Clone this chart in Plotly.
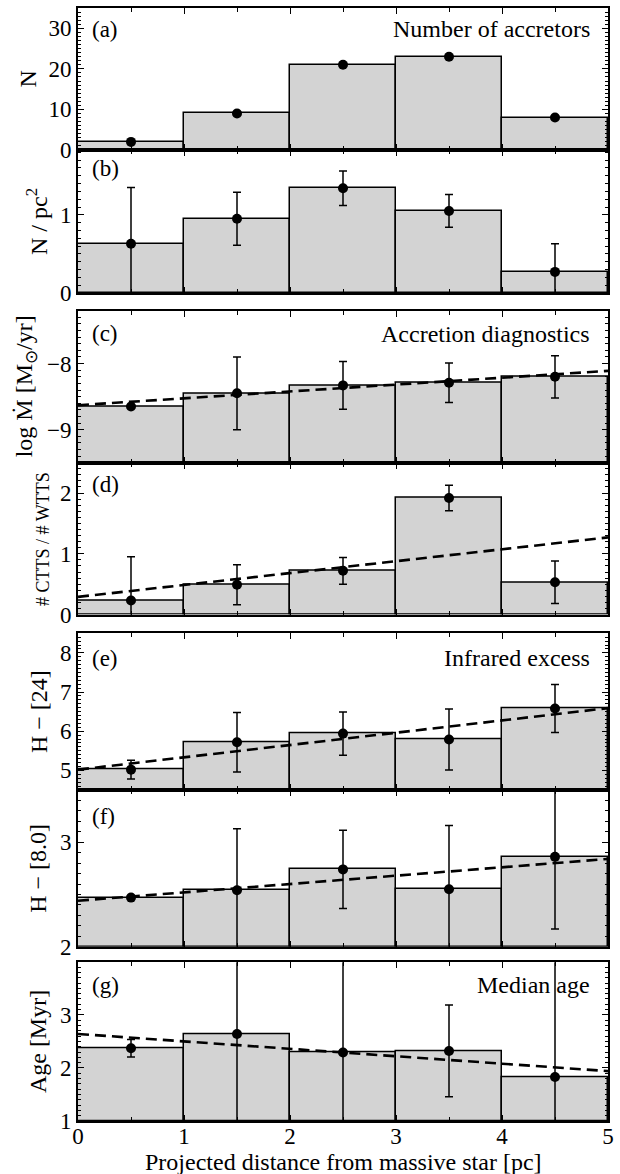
import plotly.graph_objects as go

# ---------------- data ----------------
bin_centers = [0.5, 1.5, 2.5, 3.5, 4.5]
fit_x = [0, 5]

n_accretors = [2, 9, 21, 23, 8]

density = [0.63, 0.95, 1.34, 1.05, 0.27]
density_err = [0.72, 0.34, 0.22, 0.21, 0.36]

log_mdot = [-8.65, -8.45, -8.33, -8.29, -8.20]
log_mdot_err = [0.0, 0.55, 0.36, 0.30, 0.32]
log_mdot_fit = [-8.63, -8.11]

ctts_ratio = [0.23, 0.49, 0.72, 1.92, 0.53]
ctts_ratio_err = [0.72, 0.33, 0.22, 0.21, 0.35]
ctts_ratio_fit = [0.29, 1.27]

h_24 = [5.02, 5.72, 5.94, 5.79, 6.58]
h_24_err = [0.24, 0.76, 0.55, 0.78, 0.61]
h_24_fit = [5.02, 6.59]

h_80 = [2.47, 2.54, 2.74, 2.55, 2.86]
h_80_err = [0.0, 0.59, 0.375, 0.61, 0.69]
h_80_fit = [2.44, 2.84]

median_age = [2.37, 2.64, 2.29, 2.32, 1.83]
median_age_err = [0.165, 1.8, 1.9, 0.865, 2.3]
median_age_fit = [2.64, 1.94]

panel_labels = ["(a)", "(b)", "(c)", "(d)", "(e)", "(f)", "(g)"]
panel_headers = ["Number of accretors", "", "Accretion diagnostics", "", "Infrared excess", "", "Median age"]
y_titles = ["N", "N / pc<sup>2</sup>", "log Ṁ [M<sub>⊙</sub>/yr]",
            "# CTTS / # WTTS", "H − [24]", "H − [8.0]", "Age [Myr]"]
x_title = "Projected distance from massive star [pc]"

# ---------------- layout constants ----------------
W, H = 620, 1174
ML, MR, MT, MB = 78, 6, 8, 53
PW = W - ML - MR
PH = H - MT - MB
FONT = "Liberation Serif"

# pixel tops/bottoms of each panel
panel_px = [(8, 150), (150, 293), (310.7, 462.7), (462.7, 614.5),
            (633.3, 790), (790, 946.7), (962.3, 1121)]
y_ranges = [[0, 35], [0, 1.83], [-9.5, -7.2], [0, 2.5], [4.5, 8.5], [2, 3.5], [1, 3.99]]
y_dticks = [10, 1, 1, 1, 1, 1, 1]
y_minor = [1, 0.1, 0.1, 0.1, 0.1, 0.1, 0.1]
y_title_px = [27, 36, 25, 42, 38, 38, 37]
y_title_size = [24, 24, 24, 18, 24, 24, 24]
label_offsets = [21, 18, 23, 22, 25, 26, 23]

panels = [
    (n_accretors, None, None),
    (density, density_err, None),
    (log_mdot, log_mdot_err, log_mdot_fit),
    (ctts_ratio, ctts_ratio_err, ctts_ratio_fit),
    (h_24, h_24_err, h_24_fit),
    (h_80, h_80_err, h_80_fit),
    (median_age, median_age_err, median_age_fit),
]


def dom(px):
    return (MT + PH - px) / PH


fig = go.Figure()
annotations = []
n = len(panels)
for i, (vals, err, fit) in enumerate(panels):
    k = i + 1
    xa = "x" if k == 1 else f"x{k}"
    ya = "y" if k == 1 else f"y{k}"
    y0 = y_ranges[i][0]
    fig.add_trace(go.Bar(
        x=bin_centers, y=[v - y0 for v in vals], base=y0, width=1,
        marker=dict(color="#d3d3d3", line=dict(color="black", width=1.5)),
        xaxis=xa, yaxis=ya, showlegend=False))
    if fit is not None:
        fig.add_trace(go.Scatter(
            x=fit_x, y=fit, mode="lines",
            line=dict(color="black", width=2.6, dash="11px,6px"),
            xaxis=xa, yaxis=ya, showlegend=False))
    fig.add_trace(go.Scatter(
        x=bin_centers, y=vals, mode="markers",
        marker=dict(color="black", size=10),
        error_y=dict(type="data", array=err if err is not None else [0] * 5,
                     visible=err is not None, color="black", thickness=1.5, width=4),
        xaxis=xa, yaxis=ya, showlegend=False))

    top, bot = panel_px[i]
    d0, d1 = dom(bot), dom(top)
    axis_common = dict(showline=True, linecolor="black", linewidth=1.6, mirror="allticks",
                       ticks="inside", tickcolor="black", tickwidth=1.2, ticklen=6,
                       showgrid=False, zeroline=False,
                       tickfont=dict(family=FONT, size=23, color="black"))
    xaxis = dict(axis_common, domain=[0, 1], range=[0, 5], anchor=ya, dtick=1, tick0=0,
                 minor=dict(ticks="inside", dtick=0.5, ticklen=4, tickcolor="black", tickwidth=1),
                 showticklabels=(k == n), ticklabelstandoff=-6)
    if k > 1:
        xaxis["matches"] = "x"
    yaxis = dict(axis_common, domain=[d0, d1], range=y_ranges[i], anchor=xa,
                 dtick=y_dticks[i], tick0=0,
                 minor=dict(ticks="inside", dtick=y_minor[i], ticklen=3, tickcolor="black", tickwidth=1))
    fig.layout["xaxis" if k == 1 else f"xaxis{k}"] = xaxis
    fig.layout["yaxis" if k == 1 else f"yaxis{k}"] = yaxis

    hpx = bot - top
    ylab = 1 - label_offsets[i] / hpx
    annotations.append(dict(text=panel_labels[i], xref=f"{xa} domain", yref=f"{ya} domain",
                            x=(90 - ML) / PW, y=ylab, xanchor="left", yanchor="middle",
                            showarrow=False, font=dict(family=FONT, size=23, color="black")))
    if panel_headers[i]:
        annotations.append(dict(text=panel_headers[i], xref=f"{xa} domain", yref=f"{ya} domain",
                                x=(598 - ML) / PW, y=ylab, xanchor="right", yanchor="middle",
                                showarrow=False, font=dict(family=FONT, size=24, color="black")))
    annotations.append(dict(text=y_titles[i], xref="paper", yref=f"{ya} domain",
                            x=(y_title_px[i] - ML) / PW, y=0.5, xanchor="center", yanchor="middle",
                            textangle=-90, showarrow=False,
                            font=dict(family=FONT, size=y_title_size[i], color="black")))

annotations.append(dict(text=x_title, xref="paper", yref="paper", x=0.5, y=dom(1162),
                        xanchor="center", yanchor="middle", showarrow=False,
                        font=dict(family=FONT, size=24, color="black")))

fig.update_layout(width=W, height=H, margin=dict(l=ML, r=MR, t=MT, b=MB),
                  paper_bgcolor="white", plot_bgcolor="white", bargap=0,
                  annotations=annotations, font=dict(family=FONT, color="black"))

fig.write_html("out.html")
